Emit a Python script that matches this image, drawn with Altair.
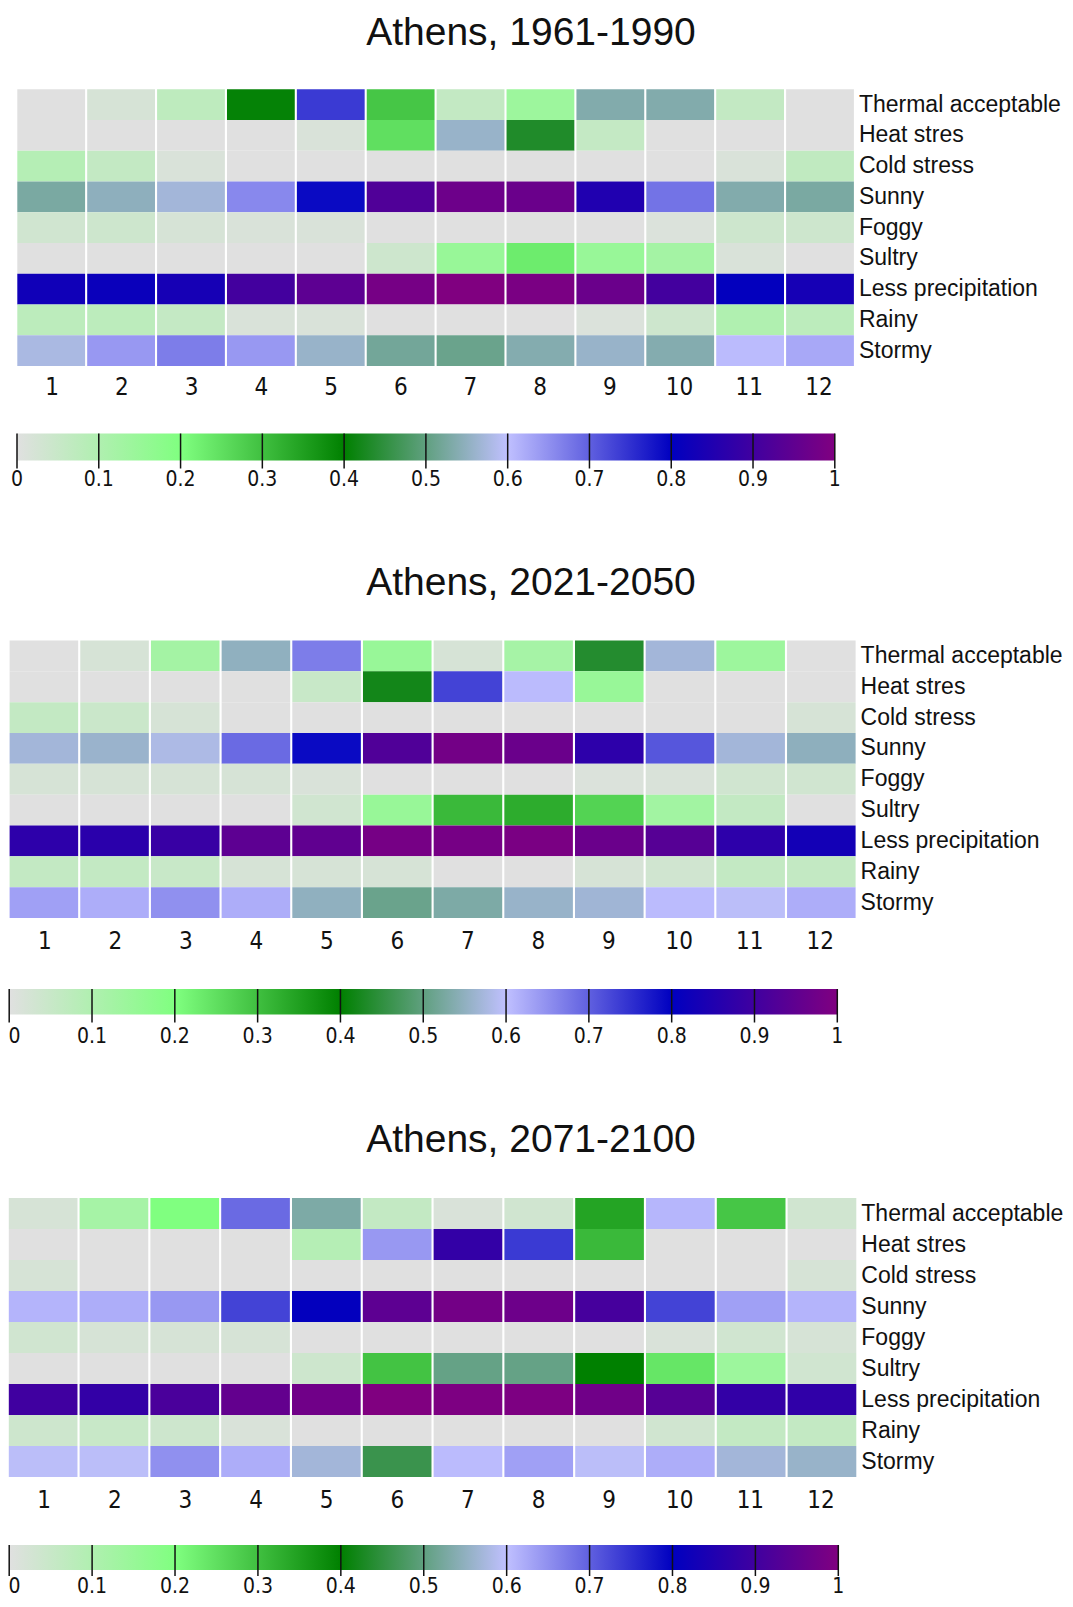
import altair as alt
import pandas as pd

categories = ["Thermal acceptable", "Heat stres", "Cold stress", "Sunny", "Foggy",
              "Sultry", "Less precipitation", "Rainy", "Stormy"]
months = list(range(1, 13))
titles = ["Athens, 1961-1990", "Athens, 2021-2050", "Athens, 2071-2100"]
tick_values = [0, 0.1, 0.2, 0.3, 0.4, 0.5, 0.6, 0.7, 0.8, 0.9, 1]
tick_labels = ["0", "0.1", "0.2", "0.3", "0.4", "0.5", "0.6", "0.7", "0.8", "0.9", "1"]

# colour ramp
ramp_stops = [0, 0.2, 0.4, 0.6, 0.8, 1.0]
ramp_colors = ["#e0e0e0", "#80ff80", "#008000", "#c0c0ff", "#0000c0", "#800080"]

# ---- Athens 1961-1990 (rows in category order, months 1..12)
p1_thermal = [0, 0.02, 0.07, 0.405, 0.74, 0.29, 0.06, 0.14, 0.535, 0.535, 0.06, 0]
p1_heat = [0, 0, 0, 0, 0.015, 0.25, 0.558, 0.433, 0.058, 0, 0, 0]
p1_cold = [0.09, 0.06, 0.015, 0, 0, 0, 0, 0, 0, 0, 0.015, 0.067]
p1_sunny = [0.527, 0.548, 0.57, 0.658, 0.79, 0.925, 0.97, 0.965, 0.85, 0.68, 0.535, 0.527]
p1_foggy = [0.033, 0.04, 0.02, 0.015, 0.015, 0, 0, 0, 0, 0.01, 0.04, 0.04]
p1_sultry = [0, 0, 0, 0, 0, 0.04, 0.15, 0.23, 0.15, 0.125, 0.015, 0]
p1_lessprec = [0.825, 0.815, 0.835, 0.905, 0.945, 0.985, 1.0, 0.99, 0.965, 0.905, 0.805, 0.835]
p1_rainy = [0.075, 0.075, 0.058, 0.015, 0.015, 0, 0, 0, 0.01, 0.04, 0.1, 0.075]
p1_stormy = [0.577, 0.642, 0.67, 0.642, 0.558, 0.52, 0.51, 0.537, 0.558, 0.537, 0.605, 0.625]

# ---- Athens 2021-2050
p2_thermal = [0, 0.02, 0.125, 0.55, 0.67, 0.15, 0.02, 0.12, 0.437, 0.57, 0.14, 0]
p2_heat = [0, 0, 0, 0, 0.05, 0.42, 0.73, 0.605, 0.15, 0, 0, 0]
p2_cold = [0.06, 0.045, 0.02, 0, 0, 0, 0, 0, 0, 0, 0, 0.02]
p2_sunny = [0.57, 0.56, 0.58, 0.69, 0.79, 0.925, 0.98, 0.965, 0.87, 0.71, 0.57, 0.548]
p2_foggy = [0.02, 0.02, 0.02, 0.02, 0.015, 0, 0, 0, 0.01, 0.015, 0.033, 0.033]
p2_sultry = [0, 0, 0, 0, 0.033, 0.15, 0.31, 0.33, 0.27, 0.13, 0.06, 0]
p2_lessprec = [0.87, 0.865, 0.887, 0.945, 0.95, 0.985, 0.985, 0.99, 0.965, 0.935, 0.87, 0.83]
p2_rainy = [0.06, 0.06, 0.05, 0.02, 0.02, 0.02, 0, 0, 0.02, 0.033, 0.06, 0.06]
p2_stormy = [0.633, 0.62, 0.65, 0.62, 0.55, 0.51, 0.53, 0.558, 0.567, 0.605, 0.595, 0.62]

# ---- Athens 2071-2100
p3_thermal = [0.02, 0.12, 0.2, 0.69, 0.53, 0.06, 0.015, 0.033, 0.344, 0.61, 0.29, 0.033]
p3_heat = [0, 0, 0, 0, 0.09, 0.642, 0.88, 0.74, 0.31, 0, 0, 0]
p3_cold = [0.02, 0, 0, 0, 0, 0, 0, 0, 0, 0, 0, 0.02]
p3_sunny = [0.612, 0.62, 0.642, 0.73, 0.805, 0.945, 0.98, 0.97, 0.91, 0.73, 0.633, 0.612]
p3_foggy = [0.033, 0.02, 0.02, 0.02, 0, 0, 0, 0, 0, 0.015, 0.033, 0.02]
p3_sultry = [0, 0, 0, 0, 0.04, 0.295, 0.505, 0.505, 0.40, 0.24, 0.14, 0.033]
p3_lessprec = [0.9, 0.88, 0.915, 0.955, 0.975, 1.0, 0.995, 0.995, 0.975, 0.935, 0.88, 0.875]
p3_rainy = [0.04, 0.05, 0.04, 0.015, 0, 0, 0, 0, 0, 0.033, 0.06, 0.06]
p3_stormy = [0.595, 0.595, 0.65, 0.62, 0.57, 0.46, 0.605, 0.633, 0.595, 0.62, 0.57, 0.558]

panels_rows = [
    [p1_thermal, p1_heat, p1_cold, p1_sunny, p1_foggy, p1_sultry, p1_lessprec, p1_rainy, p1_stormy],
    [p2_thermal, p2_heat, p2_cold, p2_sunny, p2_foggy, p2_sultry, p2_lessprec, p2_rainy, p2_stormy],
    [p3_thermal, p3_heat, p3_cold, p3_sunny, p3_foggy, p3_sultry, p3_lessprec, p3_rainy, p3_stormy],
]

# layout (pixels inside the plot area)
layouts = [
    dict(grid_x=[9.3, 845.9], grid_y=[81.3, 358.0], col_y=379.5, title_y=36.5,
         cb_x=[9.0, 826.8], cb_y=[425.5, 452.5], tick_ext=8, cb_lab_y=471.5),
    dict(grid_x=[1.6, 847.6], grid_y=[632.5, 910.0], col_y=934.0, title_y=587.0,
         cb_x=[1.2, 829.3], cb_y=[981.0, 1006.5], tick_ext=8, cb_lab_y=1029.0),
    dict(grid_x=[0.8, 848.3], grid_y=[1190.0, 1469.0], col_y=1492.5, title_y=1143.5,
         cb_x=[1.2, 830.3], cb_y=[1537.0, 1562.0], tick_ext=6, cb_lab_y=1579.0),
]

LABEL_FONT = "Liberation Sans"
NARROW_FONT = "Liberation Sans Narrow, DejaVu Sans Condensed, Liberation Sans"

color_scale = alt.Scale(domain=ramp_stops, range=ramp_colors, interpolate="rgb")
gradient = alt.LinearGradient(
    gradient="linear",
    stops=[alt.GradientStop(offset=o, color=c) for o, c in zip(ramp_stops, ramp_colors)],
    x1=0, x2=1, y1=0, y2=0,
)

layers = []
for rows, title, lay in zip(panels_rows, titles, layouts):
    records = []
    for cat, row in zip(categories, rows):
        for m, v in zip(months, row):
            records.append({"category": cat, "month": m, "value": v})
    df = pd.DataFrame(records)

    xs = alt.Scale(domain=months, range=lay["grid_x"], paddingInner=0.03, paddingOuter=0)
    ys = alt.Scale(domain=categories, range=lay["grid_y"], paddingInner=0, paddingOuter=0)

    heat = alt.Chart(df).mark_rect().encode(
        x=alt.X("month:O", scale=xs, axis=None),
        y=alt.Y("category:N", scale=ys, axis=None),
        color=alt.Color("value:Q", scale=color_scale, legend=None),
    )
    row_labels = alt.Chart(pd.DataFrame({"category": categories})).mark_text(
        align="left", baseline="middle", font=LABEL_FONT, fontSize=23, color="#111"
    ).encode(
        y=alt.Y("category:N", scale=ys, axis=None),
        x=alt.value(lay["grid_x"][1] + 5),
        text="category:N",
    )
    col_labels = alt.Chart(pd.DataFrame({"month": months})).mark_text(
        align="center", baseline="middle", font=NARROW_FONT, fontSize=24, color="#111"
    ).encode(
        x=alt.X("month:O", scale=xs, axis=None),
        y=alt.value(lay["col_y"]),
        text="month:O",
    )
    title_layer = alt.Chart(pd.DataFrame({"title": [title]})).mark_text(
        align="center", baseline="alphabetic", font=LABEL_FONT, fontSize=39, color="#111"
    ).encode(
        x=alt.value(523),
        y=alt.value(lay["title_y"]),
        text="title:N",
    )

    cbx = alt.Scale(domain=[0, 1], range=lay["cb_x"], nice=False, zero=False)
    bar = alt.Chart(pd.DataFrame({"start": [tick_values[0]], "end": [tick_values[-1]]})).mark_rect(
        fill=gradient
    ).encode(
        x=alt.X("start:Q", scale=cbx, axis=None),
        x2="end:Q",
        y=alt.value(lay["cb_y"][0]),
        y2=alt.value(lay["cb_y"][1]),
    )
    tick_df = pd.DataFrame({"t": tick_values, "label": tick_labels})
    ticks = alt.Chart(tick_df).mark_rule(color="#111", strokeWidth=1.5).encode(
        x=alt.X("t:Q", scale=cbx, axis=None),
        y=alt.value(lay["cb_y"][0]),
        y2=alt.value(lay["cb_y"][1] + lay["tick_ext"]),
    )
    # first label kept inside the page edge
    first_dx = max(0.0, 6.5 - lay["cb_x"][0])
    tick_text_first = alt.Chart(tick_df.iloc[:1]).mark_text(
        align="center", baseline="middle", font=NARROW_FONT, fontSize=21, color="#111", dx=first_dx
    ).encode(
        x=alt.X("t:Q", scale=cbx, axis=None),
        y=alt.value(lay["cb_lab_y"]),
        text="label:N",
    )
    tick_text = alt.Chart(tick_df.iloc[1:]).mark_text(
        align="center", baseline="middle", font=NARROW_FONT, fontSize=21, color="#111"
    ).encode(
        x=alt.X("t:Q", scale=cbx, axis=None),
        y=alt.value(lay["cb_lab_y"]),
        text="label:N",
    )
    layers += [heat, row_labels, col_labels, title_layer, bar, ticks, tick_text_first, tick_text]

chart = alt.layer(*layers).resolve_scale(x="independent", y="independent").properties(
    width=1057, height=1591, autosize=alt.AutoSizeParams(type="none"), padding=0
).configure_view(stroke=None)

chart.save("out.html", embed_options={"renderer": "svg", "actions": False})
